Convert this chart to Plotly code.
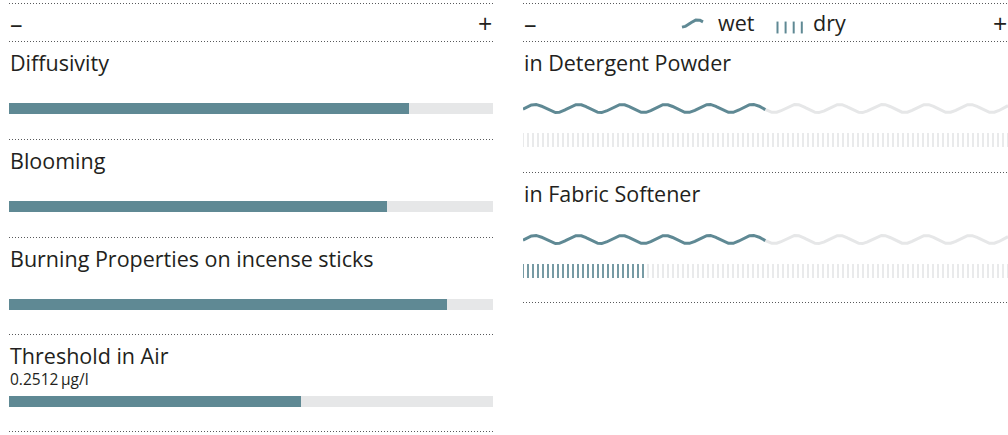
import numpy as np
import plotly.graph_objects as go

# ---------------- data ----------------
left_labels = ["Diffusivity", "Blooming", "Burning Properties on incense sticks", "Threshold in Air"]
left_values = [0.826, 0.781, 0.905, 0.603]
left_notes = ["", "", "", "0.2512\u2009µg/l"]

right_labels = ["in Detergent Powder", "in Fabric Softener"]
wet_values = [0.50, 0.50]
dry_values = [0.0, 0.25]

legend_labels = ["wet", "dry"]
scale_labels = ["–", "+"]

# ---------------- style / layout ----------------
W, H = 1008, 435
BLUE = "#5f8994"
GREY = "#e6e7e8"
TEXT = "#231f20"
DOT = "#58595b"
FONT = "Open Sans"
LABEL_SIZE = 21.5
NOTE_SIZE = 15.5
SIGN_SIZE = 25

L_X0, L_X1 = 9, 493
R_X0, R_X1 = 523, 1008
left_row_tops = [41, 139, 237, 334]
left_lines = [3, 41, 139, 237, 334, 431]
right_row_tops = [41, 172]
right_lines = [3, 41, 172, 302]

WAVE_PERIOD_PX = 43.5
WAVE_AMP = 4.0
TICK_STEP_PX = 5

fig = go.Figure()

# left panel bars
for top, v in zip(left_row_tops, left_values):
    yc = top + 67.5
    fig.add_trace(go.Bar(x=[1], y=[yc], base=0, width=11, orientation="h",
                         marker=dict(color=GREY, line=dict(width=0)),
                         xaxis="x", yaxis="y", hoverinfo="skip"))
    fig.add_trace(go.Bar(x=[v], y=[yc], base=0, width=11, orientation="h",
                         marker=dict(color=BLUE, line=dict(width=0)),
                         xaxis="x", yaxis="y", hoverinfo="skip"))

# right panel waves and ticks
panel_px = R_X1 - R_X0
xs = np.linspace(0, 1, 1200)
phase = -0.16
for top, wet, dry in zip(right_row_tops, wet_values, dry_values):
    yc = top + 67.5
    ys = yc - WAVE_AMP * np.sin(2 * np.pi * xs * panel_px / WAVE_PERIOD_PX + phase)
    m_grey = xs >= wet - 0.002
    m_blue = xs <= wet
    fig.add_trace(go.Scatter(x=xs[m_grey], y=ys[m_grey], mode="lines",
                             line=dict(color=GREY, width=3), xaxis="x2", yaxis="y",
                             hoverinfo="skip"))
    fig.add_trace(go.Scatter(x=xs[m_blue], y=ys[m_blue], mode="lines",
                             line=dict(color=BLUE, width=3), xaxis="x2", yaxis="y",
                             hoverinfo="skip"))
    n = int(panel_px / TICK_STEP_PX)
    tx = np.arange(n + 1) * TICK_STEP_PX / panel_px
    cols = [BLUE if (dry > 0 and t <= dry) else GREY for t in tx]
    fig.add_trace(go.Scatter(x=tx, y=[top + 99] * len(tx), mode="markers",
                             marker=dict(symbol="line-ns", size=10,
                                         line=dict(width=1.7, color=cols)),
                             xaxis="x2", yaxis="y", hoverinfo="skip"))

# legend icons (in right-panel coordinates)
def px2(p):
    return (p - R_X0) / panel_px

ix = np.linspace(682, 703, 60)
iph = np.linspace(-0.5 * np.pi, 0.85 * np.pi, 60)
fig.add_trace(go.Scatter(x=[px2(p) for p in ix], y=23.5 - 3.6 * np.sin(iph), mode="lines",
                         line=dict(color=BLUE, width=3), xaxis="x2", yaxis="y",
                         hoverinfo="skip"))
lx = [777.5 + 8.1 * k for k in range(4)]
fig.add_trace(go.Scatter(x=[px2(p) for p in lx], y=[27.5] * 4, mode="markers",
                         marker=dict(symbol="line-ns", size=8.5,
                                     line=dict(width=2, color=BLUE)),
                         xaxis="x2", yaxis="y", hoverinfo="skip"))

shapes = []
for y in left_lines:
    shapes.append(dict(type="line", xref="paper", yref="y", x0=L_X0 / W, x1=L_X1 / W,
                       y0=y + 0.5, y1=y + 0.5, line=dict(color=DOT, width=1, dash="1px,2px")))
for y in right_lines:
    shapes.append(dict(type="line", xref="paper", yref="y", x0=R_X0 / W, x1=R_X1 / W,
                       y0=y + 0.5, y1=y + 0.5, line=dict(color=DOT, width=1, dash="1px,2px")))

ann = []
def text(x, y, s, size, xref, anchor="left"):
    ann.append(dict(x=x, y=y, xref=xref, yref="y", text=s, showarrow=False,
                    xanchor=anchor, yanchor="middle",
                    font=dict(family=FONT, size=size, color=TEXT), borderpad=0))

for top, lab, note in zip(left_row_tops, left_labels, left_notes):
    text(0, top + 29 - 8, lab, LABEL_SIZE, "x")
    if note:
        text(0, top + 44.6, note, NOTE_SIZE, "x")
for top, lab in zip(right_row_tops, right_labels):
    text(0, top + 29 - 7.5, lab, LABEL_SIZE, "x2")

text(0, 22.5, scale_labels[0], SIGN_SIZE, "x")
text(1, 22.5, scale_labels[1], SIGN_SIZE, "x", "right")
text(0, 22.5, scale_labels[0], SIGN_SIZE, "x2")
text(1, 22.5, scale_labels[1], SIGN_SIZE, "x2", "right")
text(px2(717), 22.5, legend_labels[0], LABEL_SIZE, "x2")
text(px2(812), 22.5, legend_labels[1], LABEL_SIZE, "x2")

fig.update_layout(
    width=W, height=H, margin=dict(l=0, r=0, t=0, b=0, pad=0),
    paper_bgcolor="white", plot_bgcolor="white", showlegend=False,
    barmode="overlay", bargap=0,
    xaxis=dict(domain=[L_X0 / W, L_X1 / W], range=[0, 1], visible=False, fixedrange=True),
    xaxis2=dict(domain=[R_X0 / W, R_X1 / W], range=[0, 1], visible=False, anchor="y",
                fixedrange=True),
    yaxis=dict(domain=[0, 1], range=[H, 0], visible=False, fixedrange=True),
    shapes=shapes, annotations=ann,
)

fig.write_html("out.html", config={"displayModeBar": False},
               post_script="document.body.style.margin='0';")
